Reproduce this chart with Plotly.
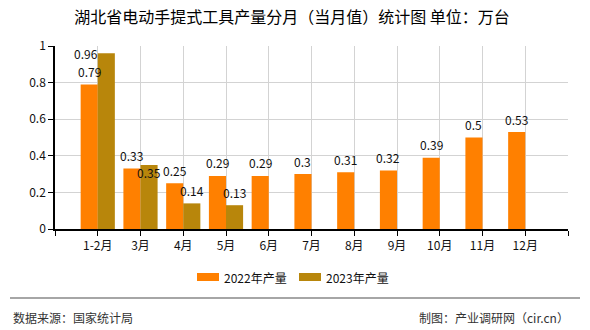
import plotly.graph_objects as go

months = ["1-2月", "3月", "4月", "5月", "6月", "7月", "8月", "9月", "10月", "11月", "12月"]
series_names = ["2022年产量", "2023年产量"]
values_2022 = [0.79, 0.33, 0.25, 0.29, 0.29, 0.3, 0.31, 0.32, 0.39, 0.5, 0.53]
values_2023 = [0.96, 0.35, 0.14, 0.13, None, None, None, None, None, None, None]
y_ticks = [0, 0.2, 0.4, 0.6, 0.8, 1]
y_ticktext = ["0", "0.2", "0.4", "0.6", "0.8", "1"]

colors = ["#FF8000", "#B8860B"]
FONT = "Noto Sans CJK SC"

W, H = 590, 330
L, R, T, B = 55, 22, 46, 101

fig = go.Figure()
x = list(range(len(months)))
fig.add_trace(go.Bar(x=x, y=values_2022, name=series_names[0], marker_color=colors[0],
                     marker_line_width=0, showlegend=False))
fig.add_trace(go.Bar(x=x, y=values_2023, name=series_names[1], marker_color=colors[1],
                     marker_line_width=0, showlegend=False))

annotations = []
def fmt(v):
    return ("%g" % v)

for i, v in enumerate(values_2022):
    if v is None:
        continue
    annotations.append(dict(x=i - 0.2, y=v, xref="x", yref="y", text=fmt(v), showarrow=False,
                            yshift=13, font=dict(family=FONT, size=12, color="#111")))
for i, v in enumerate(values_2023):
    if v is None:
        continue
    xs, ys = 0, 13
    if i == 0:
        xs, ys = -20, 0
    elif i == 1:
        ys = -8
    annotations.append(dict(x=i + 0.2, y=v, xref="x", yref="y", text=fmt(v), showarrow=False,
                            xshift=xs, yshift=ys, font=dict(family=FONT, size=12, color="#111")))

# custom legend
pw = W - L - R
ph = H - T - B
def px_x(p):
    return (p - L) / pw
def px_y(p):
    return (H - B - p) / ph

shapes = []
leg = [(197, series_names[0], colors[0]), (299, series_names[1], colors[1])]
for x0, name, c in leg:
    shapes.append(dict(type="rect", xref="paper", yref="paper",
                       x0=px_x(x0), x1=px_x(x0 + 22), y0=px_y(281), y1=px_y(273),
                       fillcolor=c, line_width=0))
    annotations.append(dict(x=px_x(x0 + 25), y=px_y(277), xref="paper", yref="paper",
                            text=name, showarrow=False, xanchor="left", yanchor="middle",
                            font=dict(family=FONT, size=12, color="#111")))

# footer line
shapes.append(dict(type="line", xref="paper", yref="paper",
                   x0=px_x(10), x1=px_x(580), y0=px_y(298), y1=px_y(298),
                   line=dict(color="#888888", width=1.5)))
annotations.append(dict(x=px_x(11), y=px_y(317), xref="paper", yref="paper",
                        text="数据来源：国家统计局", showarrow=False, xanchor="left", yanchor="middle",
                        font=dict(family=FONT, size=12, color="#333")))
annotations.append(dict(x=px_x(571), y=px_y(317), xref="paper", yref="paper",
                        text="制图：产业调研网（cir.cn）", showarrow=False, xanchor="right", yanchor="middle",
                        font=dict(family=FONT, size=12, color="#333")))

fig.update_layout(
    width=W, height=H,
    margin=dict(l=L, r=R, t=T, b=B),
    paper_bgcolor="white", plot_bgcolor="white",
    barmode="group", bargap=0.2, bargroupgap=0,
    title=dict(text="湖北省电动手提式工具产量分月（当月值）统计图 单位：万台",
               x=292 / W, xanchor="center", y=1 - 17 / H, yanchor="middle",
               font=dict(family=FONT, size=16, color="#000")),
    xaxis=dict(range=[-1, 11], tickvals=list(range(-1, 12)),
               ticktext=[""] + months + [""],
               showgrid=True, gridcolor="#D3D3D3", gridwidth=1,
               showline=True, linecolor="#000", linewidth=1.5,
               ticks="outside", ticklen=5, tickcolor="#000",
               tickfont=dict(family=FONT, size=12, color="#111"), zeroline=False, fixedrange=True),
    yaxis=dict(range=[0, 1], tickvals=y_ticks, ticktext=y_ticktext,
               showgrid=True, gridcolor="#D3D3D3", gridwidth=1,
               showline=True, linecolor="#000", linewidth=1.5,
               ticks="outside", ticklen=5, tickcolor="#000",
               tickfont=dict(family=FONT, size=12, color="#111"), zeroline=False, fixedrange=True),
    annotations=annotations, shapes=shapes,
    showlegend=False,
)

fig.write_html("out.html")
